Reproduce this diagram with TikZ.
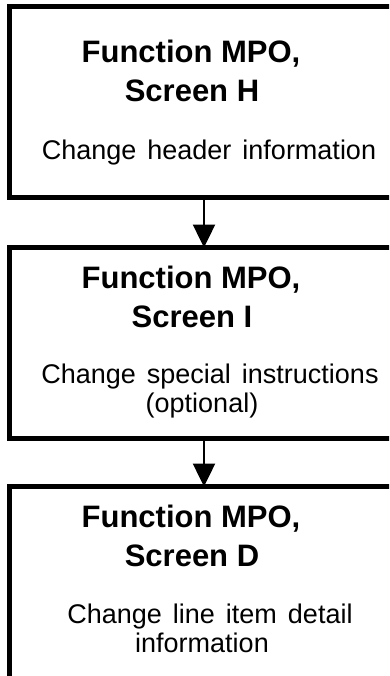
\documentclass[tikz,border=0pt]{standalone}
\usepackage{fontspec}
\setmainfont{Liberation Sans}
\usetikzlibrary{arrows.meta}
\newcommand\widesp{\spaceskip=11pt\relax}
\begin{document}
\begin{tikzpicture}[x=1pt,y=-1pt,
  box/.style={draw=black, line width=5pt, fill=white, rectangle, outer sep=0pt, inner sep=0pt, anchor=north west, minimum width=420pt},
  title/.style={font=\fontsize{31}{36}\selectfont\bfseries, inner sep=0pt, anchor=base},
  sub/.style={font=\fontsize{27}{32}\selectfont, inner sep=0pt, anchor=base},
  arr/.style={line width=2.5pt, -{Triangle[width=22pt,length=23pt]}}
]
\useasboundingbox (0,0) rectangle (389,676);
\clip (0,0) rectangle (389,676);
\coordinate (ax) at (204,0);
% boxes
\node[box, minimum height=191pt] (b1) at (9.5,6.5) {};
\node[box, minimum height=190.5pt] (b2) at (9.5,247.5) {};
\node[box, minimum height=250pt] (b3) at (9.5,486.5) {};
% box 1 text
\node[title] (t1a) at (191,63) {Function MPO,};
\node[title] (t1b) at (192,102) {Screen H};
\node[sub] (s1a) at (209,160) {\widesp Change header information};
% box 2 text
\node[title] (t2a) at (191,288) {Function MPO,};
\node[title] (t2b) at (192,327) {Screen I};
\node[sub] (s2a) at (210,383) {\widesp Change special instructions};
\node[sub] (s2b) at (202,412) {(optional)};
% box 3 text
\node[title] (t3a) at (191,527) {Function MPO,};
\node[title] (t3b) at (192,566) {Screen D};
\node[sub] (s3a) at (210,623) {\widesp Change line item detail};
\node[sub] (s3b) at (202,652) {information};
% connectors
\draw[arr] (b1.south -| ax) -- (b2.north -| ax);
\draw[arr] (b2.south -| ax) -- (b3.north -| ax);
\end{tikzpicture}
\end{document}
